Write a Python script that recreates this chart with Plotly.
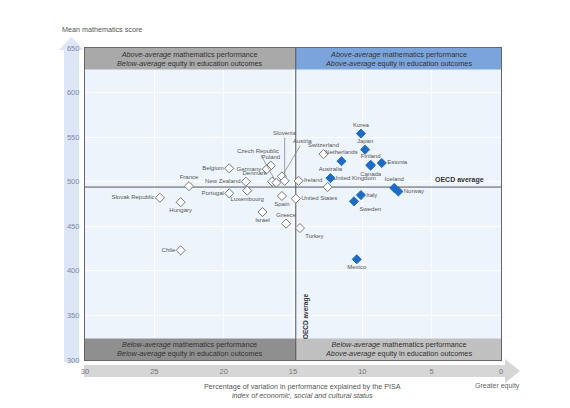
import plotly.graph_objects as go

# ---------------- data ----------------
countries = ["Korea", "Japan", "Switzerland", "Netherlands", "Estonia", "Finland", "Canada",
             "Poland", "Belgium", "Germany", "Austria", "Australia", "Ireland", "Slovenia",
             "Denmark", "New Zealand", "Czech Republic", "France", "United Kingdom", "Iceland",
             "Luxembourg", "Norway", "Portugal", "Italy", "Spain", "Slovak Republic",
             "United States", "Sweden", "Hungary", "Israel", "Greece", "Turkey", "Chile", "Mexico"]
math_score = [554, 536, 531, 523, 521, 519, 518,
              518, 515, 514, 506, 504, 501, 501,
              500, 500, 499, 495, 494, 493,
              490, 489, 487, 485, 484, 482,
              481, 478, 477, 466, 453, 448, 423, 413]
escs_variance_pct = [10.1, 9.8, 12.8, 11.5, 8.6, 9.4, 9.4,
                     16.6, 19.6, 16.9, 15.8, 12.3, 14.6, 15.6,
                     16.5, 18.4, 16.2, 22.5, 12.5, 7.7,
                     18.3, 7.4, 19.6, 10.1, 15.8, 24.6,
                     14.8, 10.6, 23.1, 17.2, 15.5, 14.5, 23.1, 10.4]
# strength of relationship significantly below OECD average (filled marker)
above_avg_equity = [True, True, False, True, True, True, True,
                    False, False, False, False, True, False, False,
                    False, False, False, False, False, True,
                    False, True, False, True, False, False,
                    False, True, False, False, False, False, False, True]

oecd_avg_score = 494
oecd_avg_escs = 14.8

x_ticks = [30, 25, 20, 15, 10, 5, 0]
y_ticks = [300, 350, 400, 450, 500, 550, 600, 650]

# ---------------- label placement (style, not data) ----------------
label_pos = {
    "Korea": "top center", "Japan": "top center", "Switzerland": "top center",
    "Netherlands": "top center", "Estonia": "middle right", "Finland": "top center",
    "Canada": "bottom center", "Poland": "top center", "Belgium": "middle left",
    "Germany": "middle left", "Australia": "top center", "Ireland": "middle right",
    "Denmark": "top left", "New Zealand": "middle left", "France": "top center",
    "United Kingdom": "top right", "Iceland": "top center", "Luxembourg": "bottom center",
    "Norway": "middle right", "Portugal": "middle left", "Italy": "middle right",
    "Spain": "bottom center", "Slovak Republic": "middle left", "United States": "middle right",
    "Sweden": "bottom right", "Hungary": "bottom center", "Israel": "bottom center",
    "Greece": "top center", "Turkey": "bottom right", "Chile": "middle left",
    "Mexico": "bottom center",
}
leader_labels = {"Czech Republic": (-18, -32), "Slovenia": (0, -48), "Austria": (21, -35)}

FONT = "Liberation Sans, Arial, sans-serif"
BLUE = "#1f6cc4"
TXT = "#555555"

fig = go.Figure()

def add_group(filled):
    idx = [i for i in range(len(countries)) if above_avg_equity[i] == filled]
    fig.add_trace(go.Scatter(
        x=[escs_variance_pct[i] for i in idx],
        y=[math_score[i] for i in idx],
        mode="markers+text",
        text=[countries[i] if countries[i] not in leader_labels else "" for i in idx],
        textposition=[label_pos.get(countries[i], "top center") for i in idx],
        textfont=dict(family=FONT, size=6, color=TXT),
        marker=dict(symbol="diamond", size=7,
                    color=BLUE if filled else "white",
                    line=dict(color=BLUE if filled else "#777777", width=1)),
        hoverinfo="text", hovertext=[countries[i] for i in idx],
        showlegend=False, cliponaxis=False,
    ))

add_group(False)
add_group(True)

# leader-line labels
for name, (ax, ay) in leader_labels.items():
    i = countries.index(name)
    fig.add_annotation(x=escs_variance_pct[i], y=math_score[i], text=name,
                       showarrow=True, arrowhead=0, arrowwidth=0.8, arrowcolor="#888888",
                       ax=ax, ay=ay, standoff=3,
                       font=dict(family=FONT, size=6, color=TXT))

# OECD average lines
fig.add_shape(type="line", x0=30, x1=0, y0=oecd_avg_score, y1=oecd_avg_score,
              line=dict(color="#555555", width=1), layer="between")
fig.add_shape(type="line", x0=oecd_avg_escs, x1=oecd_avg_escs, y0=300, y1=650,
              line=dict(color="#555555", width=1), layer="between")
fig.add_annotation(x=3.0, y=oecd_avg_score, text="<b>OECD average</b>", showarrow=False,
                   yshift=7, font=dict(family=FONT, size=7, color="#333333"))
fig.add_annotation(x=oecd_avg_escs, y=349, text="<b>OECD average</b>", showarrow=False,
                   textangle=-90, xshift=11, font=dict(family=FONT, size=6.5, color="#333333"))

# quadrant header boxes
boxes = [
    (30, oecd_avg_escs, 626, 650, "#a9a9a9",
     "<i>Above-average</i> mathematics performance<br><i>Below-average</i> equity in education outcomes"),
    (oecd_avg_escs, 0, 626, 650, "#7ba4dd",
     "<i>Above-average</i> mathematics performance<br><i>Above-average</i> equity in education outcomes"),
    (30, oecd_avg_escs, 300, 324, "#8f8f8f",
     "<i>Below-average</i> mathematics performance<br><i>Below-average</i> equity in education outcomes"),
    (oecd_avg_escs, 0, 300, 324, "#c0c0c0",
     "<i>Below-average</i> mathematics performance<br><i>Above-average</i> equity in education outcomes"),
]
for x0, x1, y0, y1, col, txt in boxes:
    fig.add_shape(type="rect", x0=x0, x1=x1, y0=y0, y1=y1, fillcolor=col,
                  line=dict(width=0), layer="above")
    fig.add_annotation(x=(x0 + x1) / 2, y=(y0 + y1) / 2, text=txt, showarrow=False,
                       xanchor="center", yanchor="middle",
                       font=dict(family=FONT, size=7.3, color="#333333"))
# redraw divider lines over boxes
fig.add_shape(type="line", x0=oecd_avg_escs, x1=oecd_avg_escs, y0=626, y1=650,
              line=dict(color="#555555", width=1), layer="above")
fig.add_shape(type="line", x0=oecd_avg_escs, x1=oecd_avg_escs, y0=300, y1=324,
              line=dict(color="#555555", width=1), layer="above")

# page body offset of 8px is compensated in the figure size / margins
OFF = 8
# axis arrow bands (paper coords, computed from window pixels)
W, H, L, B = 416.0, 312.0, 85.0, 360.0
def px(x): return (x - L) / W
def py(y): return (B - y) / H

yband = (f"M {px(64)},{py(362)} L {px(64)},{py(50)} L {px(59)},{py(50)} L {px(71.5)},{py(37)} "
         f"L {px(84)},{py(50)} L {px(79)},{py(50)} L {px(79)},{py(362)} Z")
fig.add_shape(type="path", path=yband, xref="paper", yref="paper",
              fillcolor="#dce6f6", line=dict(width=0), layer="below")
xband = (f"M {px(84)},{py(365)} L {px(505)},{py(365)} L {px(505)},{py(359)} L {px(520)},{py(371)} "
         f"L {px(505)},{py(383)} L {px(505)},{py(377)} L {px(84)},{py(377)} Z")
fig.add_shape(type="path", path=xband, xref="paper", yref="paper",
              fillcolor="#d6d6d6", line=dict(width=0), layer="below")

# titles
fig.add_annotation(xref="paper", yref="paper", x=px(60), y=py(29),
                   xanchor="left", yanchor="middle",
                   text="Mean mathematics score", showarrow=False,
                   font=dict(family=FONT, size=7.2, color="#555555"))
fig.add_annotation(xref="paper", yref="paper", x=px(302), y=py(391),
                   xanchor="center", yanchor="middle",
                   text="Percentage of variation in performance explained by the PISA<br>"
                        "<i>index of economic, social and cultural status</i>",
                   showarrow=False, font=dict(family=FONT, size=7.2, color="#555555"))
fig.add_annotation(xref="paper", yref="paper", x=px(497), y=py(386),
                   xanchor="center", yanchor="middle",
                   text="Greater equity", showarrow=False,
                   font=dict(family=FONT, size=7, color="#666666"))

fig.update_xaxes(range=[30, 0], tickvals=x_ticks, ticks="outside", ticklen=4,
                 tickcolor="rgba(0,0,0,0)", showgrid=True, gridcolor="white", gridwidth=1,
                 zeroline=False, showline=True, mirror=True, linecolor="#666666", linewidth=1.2,
                 tickfont=dict(family=FONT, size=7.5, color="#777777"))
fig.update_yaxes(range=[300, 650], tickvals=y_ticks, ticks="outside", ticklen=3,
                 tickcolor="rgba(0,0,0,0)", showgrid=True, gridcolor="white", gridwidth=1,
                 zeroline=False, showline=True, mirror=True, linecolor="#666666", linewidth=1.2,
                 tickfont=dict(family=FONT, size=7.5, color="#7d8aa3"))

fig.update_layout(width=570 - OFF, height=408 - OFF,
                  margin=dict(l=85 - OFF, r=69, t=48 - OFF, b=48),
                  plot_bgcolor="#eef4fc", paper_bgcolor="white", showlegend=False)

fig.write_html("out.html")
